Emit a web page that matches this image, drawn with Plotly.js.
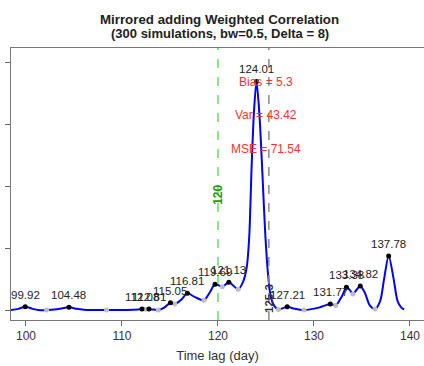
<!DOCTYPE html>
<html>
<head>
<meta charset="utf-8">
<script src="https://cdn.plot.ly/plotly-3.0.1.min.js"></script>
<style>html,body{margin:0;padding:0;background:#fff;}#chart{width:424px;height:366px;}</style>
</head>
<body>
<div id="chart"></div>
<script>
// density curve (time lag in days vs density)
const curveX = [98.44, 99.2, 99.92, 100.7, 101.3, 102.15, 103.2, 104.48, 105.3, 106.3, 108.4, 110.5, 111.7, 112.08, 112.45, 112.81, 113.3, 113.78, 114.4, 115.05, 115.5, 116.2, 116.81, 117.6, 118.54, 119.2, 119.69, 120.45, 121.13, 121.7, 122.1, 122.6, 123.0, 123.26, 123.5, 123.75, 124.01, 124.3, 124.6, 124.9, 125.2, 125.5, 125.9, 126.3, 127.21, 128.0, 128.96, 130.5, 131.7, 132.26, 132.9, 133.38, 133.7, 134.06, 134.4, 134.82, 135.3, 135.8, 136.35, 136.9, 137.3, 137.78, 138.3, 138.7, 139.1, 139.4];
const curveY = [0.0, 0.02, 0.053, 0.02, 0.003, 0.0, 0.012, 0.044, 0.02, 0.003, 0.0, 0.003, 0.01, 0.016, 0.012, 0.016, 0.008, 0.0, 0.04, 0.118, 0.097, 0.17, 0.27, 0.21, 0.16, 0.3, 0.416, 0.378, 0.448, 0.38, 0.335, 0.45, 0.7, 1.2, 2.3, 3.2, 3.69, 3.2, 2.3, 1.3, 0.6, 0.215, 0.06, 0.01, 0.053, 0.02, 0.0, 0.04, 0.10, 0.076, 0.22, 0.367, 0.33, 0.26, 0.32, 0.39, 0.28, 0.08, 0.016, 0.15, 0.5, 0.874, 0.5, 0.15, 0.04, 0.01];
// local maxima (labelled) and minima
const peakX = [99.92, 104.48, 112.08, 112.81, 115.05, 116.81, 119.69, 121.13, 124.01, 127.21, 131.7, 133.38, 134.82, 137.78];
const peakY = [0.053, 0.044, 0.016, 0.016, 0.118, 0.27, 0.416, 0.448, 3.69, 0.053, 0.10, 0.367, 0.39, 0.874];
const peakLabels = ["99.92", "104.48", "112.08", "112.81", "115.05", "116.81", "119.69", "121.13", "124.01", "127.21", "131.77", "133.38", "134.82", "137.78"];
const minX = [102.15, 108.4, 112.45, 113.78, 115.5, 118.54, 120.45, 122.1, 126.3, 128.96, 132.26, 134.06, 136.35];
const minY = [0.0, 0.0, 0.012, 0.0, 0.097, 0.16, 0.378, 0.335, 0.01, 0.0, 0.076, 0.26, 0.016];
const trueLag = 120;
const estLag = 125.3;
const statLines = ["Bias = 5.3", "Var = 43.42", "MSE = 71.54"];
const statY = [3.685, 3.144, 2.6];
const xTicks = [100, 110, 120, 130, 140];
const yTicks = [0, 1, 2, 3, 4];

const FONT = "Liberation Sans, Arial, Helvetica, sans-serif";
const yMin = -0.16, yMax = 4.23;
const traces = [
  {x: curveX, y: curveY, type: 'scatter', mode: 'lines', line: {color: '#0000ff', width: 2, shape: 'spline', smoothing: 0.8}, hoverinfo: 'skip'},
  {x: minX, y: minY, type: 'scatter', mode: 'markers', marker: {color: '#bebebe', size: 5}},
  {x: peakX, y: peakY, type: 'scatter', mode: 'markers', marker: {color: '#000000', size: 5}}
];
const annotations = [];
peakX.forEach((x, i) => annotations.push({x: x, y: peakY[i], text: peakLabels[i], showarrow: false, yshift: 12, xanchor: 'center', yanchor: 'middle', font: {family: FONT, size: 11.5, color: '#222'}}));
statLines.forEach((t, i) => annotations.push({x: 125.05, y: statY[i], text: t, showarrow: false, xanchor: 'center', yanchor: 'middle', font: {family: FONT, size: 12, color: '#ff3030'}}));
annotations.push({x: trueLag, y: 1.86, text: '<b>' + trueLag + '</b>', textangle: -90, showarrow: false, font: {family: FONT, size: 12, color: '#1a9a1a'}});
annotations.push({x: estLag, y: 0.194, text: '<b>' + estLag + '</b>', textangle: -90, showarrow: false, font: {family: FONT, size: 11.5, color: '#333'}});
annotations.push({xref: 'paper', yref: 'paper', x: 0.506, y: (320 - 20) / 272, text: '<b>Mirrored adding Weighted Correlation</b>', showarrow: false, xanchor: 'center', yanchor: 'middle', font: {family: FONT, size: 13.3, color: '#222'}});
annotations.push({xref: 'paper', yref: 'paper', x: 0.506, y: (320 - 33.5) / 272, text: '<b>(300 simulations, bw=0.5, Delta = 8)</b>', showarrow: false, xanchor: 'center', yanchor: 'middle', font: {family: FONT, size: 13, color: '#222'}});

const layout = {
  width: 424, height: 366,
  margin: {l: 11, r: 0, t: 48, b: 46, pad: 0},
  paper_bgcolor: '#fff', plot_bgcolor: '#fff',
  showlegend: false,
  font: {family: FONT, color: '#333'},
  xaxis: {range: [98.44, 141.46], tickvals: xTicks, ticktext: xTicks.map(String), ticks: 'outside', ticklen: 5, tickcolor: '#666', showline: true, linecolor: '#777', linewidth: 1, mirror: true, showgrid: false, zeroline: false, tickfont: {size: 12, color: '#333'}, title: {text: 'Time lag (day)', font: {size: 13, color: '#333'}, standoff: 8}},
  yaxis: {range: [yMin, yMax], tickvals: yTicks, ticks: 'outside', ticklen: 5, tickcolor: '#666', showticklabels: false, showline: true, linecolor: '#777', linewidth: 1, showgrid: false, zeroline: false},
  shapes: [
    {type: 'line', xref: 'x', yref: 'paper', x0: trueLag, x1: trueLag, y0: 0, y1: 1, line: {color: '#66dd66', width: 1.5, dash: 'dash'}},
    {type: 'line', xref: 'x', yref: 'paper', x0: estLag, x1: estLag, y0: 0, y1: 1, line: {color: '#8a8a8a', width: 1.5, dash: 'dash'}}
  ],
  annotations: annotations
};
Plotly.newPlot('chart', traces, layout, {staticPlot: true, displayModeBar: false});
</script>
</body>
</html>
